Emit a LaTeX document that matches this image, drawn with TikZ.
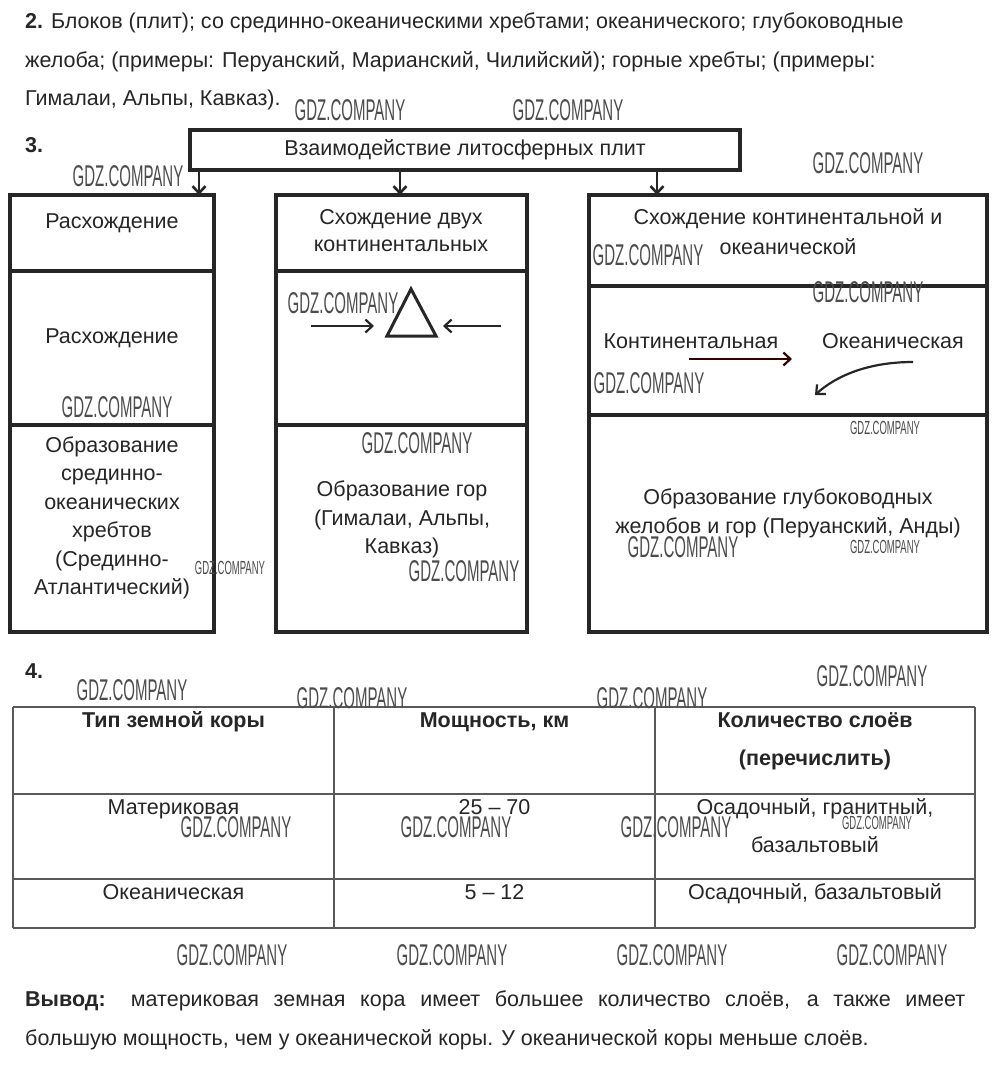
\documentclass[tikz,border=0pt]{standalone}
\usepackage{fontspec}
\setmainfont{Liberation Sans}
\newfontfamily\wmfont[FakeStretch=0.5]{Liberation Sans}
\usepackage{tikz}
\usetikzlibrary{arrows.meta, calc}
\usetikzlibrary{positioning}

\tikzset{
  box/.style={draw=black!85, line width=3.5pt, inner sep=0pt},
  txt/.style={text=black!85, font=\fontsize{21.5}{28.5}\selectfont, align=center, inner sep=0pt},
  line/.style={text=black!85, font=\fontsize{21.5}{24}\selectfont, anchor=base west, inner sep=0pt},
  tab/.style={draw=black!65, line width=1.1pt},
  arr/.style={-{Straight Barb[length=7pt,width=13pt]}, line width=2.6pt, draw=black!85},
  wm/.style={font=\wmfont\fontsize{30}{30}\selectfont, text=black!70, inner sep=0pt},
  wms/.style={font=\wmfont\fontsize{19}{19}\selectfont, text=black!70, inner sep=0pt}
}

\begin{document}
\begin{tikzpicture}[x=1pt, y=-1pt]
    \useasboundingbox[fill=white] (0,0) rectangle (1000,1065);

    \node[line] (q2a) at (25,29) {\textbf{2.} Блоков (плит); со срединно-океаническими хребтами; океанического; глубоководные};
    \node[line] (q2b) at (25,67) {желоба; (примеры: Перуанский, Марианский, Чилийский); горные хребты; (примеры:};
    \node[line] (q2c) at (25,105) {Гималаи, Альпы, Кавказ).};
    \node[line] (q3) at (25,152) {\textbf{3.}};

    \node[box, txt, minimum width=550pt, minimum height=40pt] (plates) at (465,150) {Взаимодействие литосферных плит};

    \node[box, minimum width=204pt, minimum height=76pt] (div1) at (112,233) {};
    \node[box, minimum width=204pt, minimum height=154pt] (div2) at (112,348) {};
    \node[box, minimum width=204pt, minimum height=207pt] (div3) at (112,528.5) {};
    \node[box, minimum width=251pt, minimum height=76pt] (cc1) at (401.5,233) {};
    \node[box, minimum width=251pt, minimum height=154pt] (cc2) at (401.5,348) {};
    \node[box, minimum width=251pt, minimum height=207pt] (cc3) at (401.5,528.5) {};
    \node[box, minimum width=398pt, minimum height=91pt] (co1) at (788,240.5) {};
    \node[box, minimum width=398pt, minimum height=129pt] (co2) at (788,350.5) {};
    \node[box, minimum width=398pt, minimum height=217pt] (co3) at (788,523.5) {};

    \coordinate (in1) at (199,195);
    \coordinate (in2) at (400,195);
    \coordinate (in3) at (657,195);
    \draw[arr] (plates.south -| in1) -- (in1);
    \draw[arr] (plates.south -| in2) -- (in2);
    \draw[arr] (plates.south -| in3) -- (in3);

    \node[txt] (div1t) at (112,223) {Расхождение};
    \node[txt] (div2t) at (112,338) {Расхождение};
    \node[txt] (div3t) at (112,518) {Образование\\срединно-\\океанических\\хребтов\\(Срединно-\\Атлантический)};
    \node[txt, font=\fontsize{21.5}{27}\selectfont] (cc1t) at (401,230.5) {Схождение двух\\континентальных};
    \node[txt] (cc3t) at (402,519.5) {Образование гор\\(Гималаи, Альпы,\\Кавказ)};
    \node[txt, font=\fontsize{21.5}{30}\selectfont] (co1t) at (788,232) {Схождение континентальной и\\океанической};
    \node[txt] (cont) at (691,341) {Континентальная};
    \node[txt] (ocean) at (893,341) {Океаническая};
    \node[txt, font=\fontsize{21.5}{29}\selectfont] (co3t) at (788,513.5) {Образование глубоководных\\желобов и гор (Перуанский, Анды)};

    \draw[line width=3pt, draw=black!85, line join=miter] (411,289) -- (387,336) -- (436,336) -- cycle;
    \coordinate (pl) at (311,326);
    \coordinate (pr) at (501,326);
    \draw[arr, line width=2.2pt] (pl) -- (374,326);
    \draw[arr, line width=2.2pt] (pr) -- (443,326);

    \coordinate (sub) at (689,359);
    \coordinate (dive) at (913,362);
    \draw[arr, line width=2.2pt, draw=black!80!red] (sub) -- (792,359);
    \draw[arr, line width=2.2pt] (dive) .. controls (868,362) and (836,376) .. (815,395);

    \node[line] (q4) at (25,678) {\textbf{4.}};
    \foreach \y in {707,794,879,928}
        \draw[tab] (13,\y) -- (975,\y);
    \foreach \x in {13,334,655,975}
        \draw[tab] (\x,707) -- (\x,928);

    \node[line, anchor=base] (h1) at (173.5,727) {\textbf{Тип земной коры}};
    \node[line, anchor=base] (h2) at (494.5,727) {\textbf{Мощность, км}};
    \node[line, anchor=base] (h3) at (815,727) {\textbf{Количество слоёв}};
    \node[line, anchor=base] (h3b) at (815,765) {\textbf{(перечислить)}};
    \node[line, anchor=base] (r1a) at (173.5,814) {Материковая};
    \node[line, anchor=base] (r1b) at (494.5,814) {25 – 70};
    \node[line, anchor=base] (r1c) at (815,814) {Осадочный, гранитный,};
    \node[line, anchor=base] (r1d) at (815,852) {базальтовый};
    \node[line, anchor=base] (r2a) at (173.5,899) {Океаническая};
    \node[line, anchor=base] (r2b) at (494.5,899) {5 – 12};
    \node[line, anchor=base] (r2c) at (815,899) {Осадочный, базальтовый};

    \node[line] (concl1) at (25,1006) {\makebox[940pt][s]{\textbf{Вывод:} материковая земная кора имеет большее количество слоёв, а также имеет}};
    \node[line] (concl2) at (25,1045) {большую мощность, чем у океанической коры. У океанической коры меньше слоёв.};

    \foreach \x/\y [count=\i] in {350/110, 568/110, 128/176, 868/163, 648/255, 868/292, 343/303,
        117/407, 649/383, 417/443, 464/571, 683/547, 872/676, 132/690, 352/698, 652/698,
        236/827, 456/827, 676/827, 232/955, 452/955, 672/955, 892/955}
        \node[wm] (wm\i) at (\x,\y) {GDZ.COMPANY};
    \foreach \x/\y [count=\i] in {885/428, 230/568, 885/547, 877/823}
        \node[wms] (wms\i) at (\x,\y) {GDZ.COMPANY};
\end{tikzpicture}
\end{document}
